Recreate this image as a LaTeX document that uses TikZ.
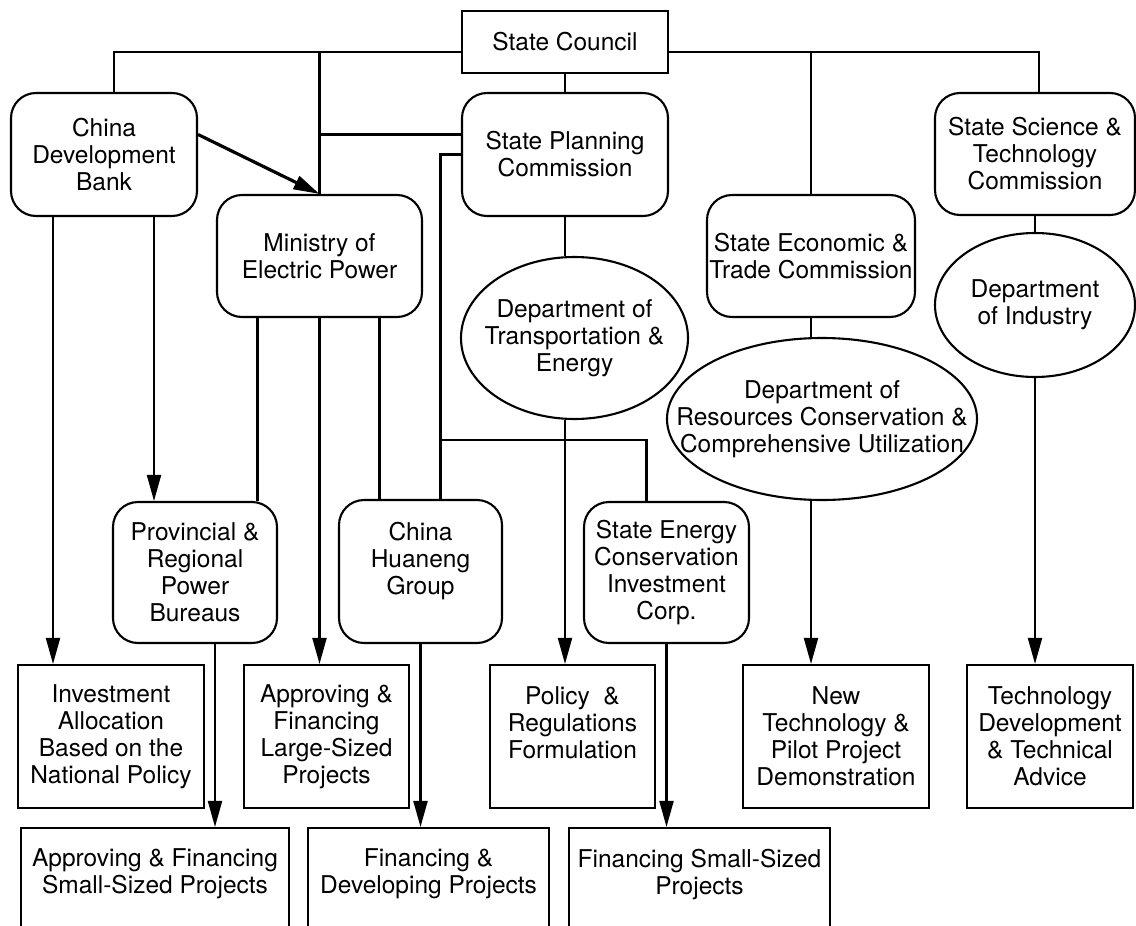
\documentclass[tikz,border=0pt]{standalone}
\usepackage{fontspec}
\setmainfont{TeX Gyre Heros}
\usetikzlibrary{shapes.geometric, arrows.meta}

\begin{document}
\begin{tikzpicture}[x=1pt, y=-1pt, line width=2.1pt, font=\fontsize{24.5}{27}\selectfont]
            \tikzstyle{office}=[draw, rectangle, inner sep=0pt, align=center]
            \tikzstyle{agency}=[draw, rectangle, rounded corners=25pt, inner sep=0pt, align=center]
            \tikzstyle{dept}=[draw, ellipse, inner xsep=-45pt, inner ysep=-20pt, align=center]
            \tikzstyle{task}=[draw, rectangle, inner sep=0pt, align=center, minimum height=143pt]
            \tikzstyle{arr}=[-{Triangle[length=26pt, width=14pt]}]
            \useasboundingbox (0,0) rectangle (1136,926);

            \node[office, minimum width=206pt, minimum height=62pt] (sc) at (565,42) {State Council};
            \node[agency, minimum width=186pt, minimum height=123pt] (cdb) at (104,154.5) {China\\Development\\Bank};
            \node[agency, minimum width=206pt, minimum height=123pt] (sp) at (565,154.5) {State Planning\\Commission};
            \node[agency, minimum width=200pt, minimum height=122pt] (sst) at (1035,154) {State Science \&\\Technology\\Commission};
            \node[agency, minimum width=205pt, minimum height=122pt] (mep) at (319.5,256) {Ministry of\\Electric Power};
            \node[agency, minimum width=208pt, minimum height=122pt] (sec) at (811,256) {State Economic \&\\Trade Commission};

            \node[dept, minimum width=227pt, minimum height=162pt] (dte) at (574.5,338) {Department of\\Transportation \&\\Energy};
            \node[dept, minimum width=310pt, minimum height=162pt] (drc) at (822,419) {Department of\\Resources Conservation \&\\Comprehensive Utilization};
            \node[dept, minimum width=200pt, minimum height=144pt] (di) at (1035,305) {Department\\of Industry};

            \node[agency, minimum width=164pt, minimum height=141pt] (prb) at (195,572.5) {Provincial \&\\Regional\\Power\\Bureaus};
            \node[agency, minimum width=163pt, minimum height=143pt] (chg) at (420.5,571.5) {China\\Huaneng\\Group\\\mbox{}};
            \node[agency, minimum width=165pt, minimum height=141pt] (seci) at (666.5,572.5) {State Energy\\Conservation\\Investment\\Corp.};

            \node[task, minimum width=186pt] (inv) at (111,736.5) {Investment\\Allocation\\Based on the\\National Policy};
            \node[task, minimum width=165pt] (large) at (326.5,736.5) {Approving \&\\Financing\\Large-Sized\\Projects};
            \node[task, minimum width=165pt] (policy) at (572.5,736.5) {Policy \ \&\\Regulations\\Formulation\\\mbox{}};
            \node[task, minimum width=186pt] (pilot) at (836,736.5) {New\\Technology \&\\Pilot Project\\Demonstration};
            \node[task, minimum width=166pt] (advice) at (1050,736.5) {Technology\\Development\\\& Technical\\Advice};

            \node[task, minimum width=268pt, minimum height=141pt] (small) at (155,898.5) {Approving \& Financing\\Small-Sized Projects\\\mbox{}\\\mbox{}};
            \node[task, minimum width=241pt, minimum height=141pt] (develop) at (428.5,898.5) {Financing \&\\Developing Projects\\\mbox{}\\\mbox{}};
            \node[task, minimum width=261pt, minimum height=141pt] (fsmall) at (699.5,898.5) {Financing Small-Sized\\Projects\\\mbox{}\\\mbox{}};

            \coordinate (scl) at ([yshift=-10pt]sc.west);
            \coordinate (scr) at ([yshift=-10pt]sc.east);
            \coordinate (spa) at ([yshift=20pt]sp.west);
            \coordinate (chgtop) at ([xshift=20pt]chg.north);
            \coordinate (fork) at (440.5,440);
            \coordinate (cdbl) at ([xshift=-51pt]cdb.south);
            \coordinate (cdbr) at ([xshift=50pt]cdb.south);
            \coordinate (mepl) at ([xshift=-62pt]mep.south);
            \coordinate (mepr) at ([xshift=60pt]mep.south);
            \coordinate (prbb) at ([xshift=20pt]prb.south);

            \draw (scl) -| ([xshift=10pt]cdb.north);
            \draw (scr) -| ([xshift=4pt]sst.north);
            \draw (mep.north |- scl) -- (mep.north);
            \draw (sec.north |- scr) -- (sec.north);
            \draw (sc.south) -- (sp.north);
            \draw (spa) -- (spa -| mep.north);
            \draw (sp.west) -| (chgtop);
            \draw (fork) -| ([xshift=-20pt]seci.north);
            \draw[arr, line width=3.2pt] ([yshift=20pt]cdb.east) -- (mep.north);

            \draw (sp.south) -- (sp.south |- dte.north);
            \draw[arr] (sp.south |- dte.south) -- (sp.south |- policy.north);
            \draw (sec.south) -- (sec.south |- drc.north);
            \draw[arr] (sec.south |- drc.south) -- (sec.south |- pilot.north);
            \draw (sst.south) -- (di.north);
            \draw[arr] (di.south) -- (di.south |- advice.north);

            \draw[arr] (cdbl) -- (cdbl |- inv.north);
            \draw[arr] (cdbr) -- (cdbr |- prb.north);
            \draw (mepl) -- (mepl |- prb.north);
            \draw[arr] (mep.south) -- (mep.south |- large.north);
            \draw (mepr) -- (mepr |- chg.north);
            \draw[arr] (prbb) -- (prbb |- small.north);
            \draw[arr] (chg.south) -- (chg.south |- develop.north);
            \draw[arr] (seci.south) -- (seci.south |- fsmall.north);
        \end{tikzpicture}
\end{document}
